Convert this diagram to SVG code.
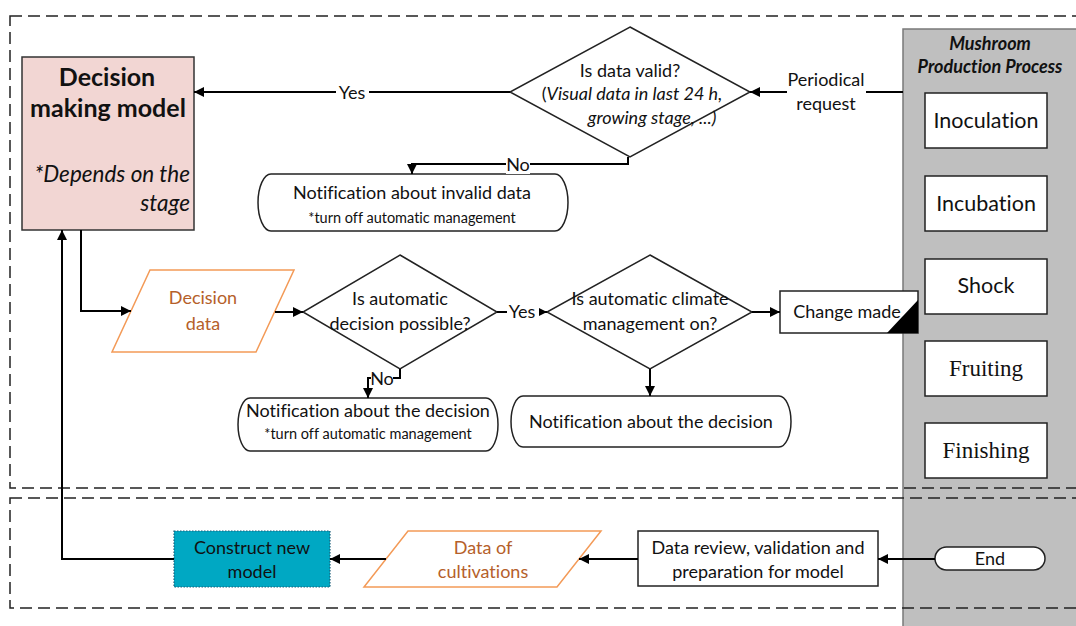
<svg xmlns="http://www.w3.org/2000/svg" width="1076" height="626" viewBox="0 0 1076 626">
<style>
text{font-family:Lato,"Open Sans","Liberation Sans",sans-serif;fill:#111;text-anchor:middle;font-variant-ligatures:none}
.t16{font-size:18px}
.t13{font-size:14.5px}
.serif{font-family:"Liberation Serif","Times New Roman",serif}
.orange{fill:#b5602a}
.box{fill:#fff;stroke:#222;stroke-width:1.5}
.dash{fill:none;stroke:#222;stroke-width:1.5;stroke-dasharray:12 6}
.conn{fill:none;stroke:#000;stroke-width:2}
.par{fill:#fff;stroke:#f39a57;stroke-width:1.5}
.lbl{fill:#fff;stroke:none}
</style>
<defs>
<marker id="ah" viewBox="0 0 10 10" refX="10" refY="5" markerWidth="10" markerHeight="10" markerUnits="userSpaceOnUse" orient="auto">
<path d="M0,0 L10,5 L0,10 Z" fill="#000"/>
</marker>
</defs>
<rect width="1076" height="626" fill="#fff"/>

<g id="panel">
<rect x="903" y="29" width="190" height="620" fill="#bfbfbf" stroke="#7a7a7a" stroke-width="1.5"/>
<text x="990" y="50" style="font-size:18px;font-weight:bold;font-style:italic">Mushroom</text>
<text x="990" y="73" style="font-size:18px;font-weight:bold;font-style:italic">Production Process</text>
</g>

<g id="frames">
<rect class="dash" x="10" y="16" width="1090" height="472"/>
<rect class="dash" x="10" y="498" width="1090" height="110"/>
</g>

<g id="stage-inoculation"><rect class="box" x="925" y="93" width="122" height="55"/><text x="986" y="128" style="font-size:21.5px">Inoculation</text></g>
<g id="stage-incubation"><rect class="box" x="925" y="176" width="122" height="55"/><text x="986" y="211" style="font-size:21.5px">Incubation</text></g>
<g id="stage-shock"><rect class="box" x="925" y="259" width="122" height="55"/><text x="986" y="293" style="font-size:21.5px">Shock</text></g>
<g id="stage-fruiting"><rect class="box" x="925" y="341" width="122" height="55"/><text class="serif" x="986" y="376" style="font-size:23px">Fruiting</text></g>
<g id="stage-finishing"><rect class="box" x="925" y="423" width="122" height="55"/><text class="serif" x="986" y="458" style="font-size:23px">Finishing</text></g>

<g id="decision-model">
<rect x="22" y="57" width="172" height="173" fill="#f2d6d3" stroke="#333" stroke-width="1.5"/>
<text x="107" y="86" style="font-size:25px;font-weight:bold">Decision</text>
<text x="108" y="117" style="font-size:25px;font-weight:bold">making model</text>
<text x="190" y="182" style="font-size:22.5px;font-style:italic;text-anchor:end">*Depends on the</text>
<text x="190" y="211" style="font-size:22.5px;font-style:italic;text-anchor:end">stage</text>
</g>

<g id="data-valid">
<polygon class="box" points="630,27 750,92 630,157 510,92"/>
<text class="t16" x="630" y="77">Is data valid?</text>
<text class="t16" x="632" y="100">(<tspan font-style="italic">Visual data in last 24 h,</tspan></text>
<text class="t16" x="652" y="124" font-style="italic">growing stage, ...)</text>
</g>

<g id="notif-invalid">
<path class="box" d="M271,174 H555 A13,28.5 0 0 1 555,231 H271 A13,28.5 0 0 1 271,174 Z"/>
<text class="t16" x="412" y="199">Notification about invalid data</text>
<text class="t13" x="412" y="223">*turn off automatic management</text>
</g>

<g id="decision-data">
<polygon class="par" points="150,270 294,270 256,352 112,352"/>
<text class="t16 orange" x="203" y="304">Decision</text>
<text class="t16 orange" x="203" y="330">data</text>
</g>

<g id="auto-decision">
<polygon class="box" points="400,255 497,312 400,369 303,312"/>
<text class="t16" x="400" y="305">Is automatic</text>
<text class="t16" x="400" y="330">decision possible?</text>
</g>

<g id="auto-climate">
<polygon class="box" points="650,255 752,312 650,369 547,312"/>
<text class="t16" x="650" y="305">Is automatic climate</text>
<text class="t16" x="650" y="330">management on?</text>
</g>

<g id="change-made">
<rect class="box" x="780" y="291" width="138" height="42"/>
<polygon points="918,300 918,333 887,333" fill="#000"/>
<text class="t16" x="847" y="318">Change made</text>
</g>

<g id="notif-decision-1">
<path class="box" d="M250,398 H486 A12,26.5 0 0 1 486,451 H250 A12,26.5 0 0 1 250,398 Z"/>
<text class="t16" x="368" y="417">Notification about the decision</text>
<text class="t13" x="368" y="439">*turn off automatic management</text>
</g>

<g id="notif-decision-2">
<path class="box" d="M523,396 H779 A12,25.5 0 0 1 779,447 H523 A12,25.5 0 0 1 523,396 Z"/>
<text class="t16" x="651" y="428">Notification about the decision</text>
</g>

<g id="end">
<rect class="box" x="935" y="547" width="110" height="23" rx="11.5" ry="11.5"/>
<text class="t16" x="990" y="565">End</text>
</g>

<g id="data-review">
<rect class="box" x="638" y="531" width="240" height="55"/>
<text class="t16" x="758" y="554">Data review, validation and</text>
<text class="t16" x="758" y="578">preparation for model</text>
</g>

<g id="data-cultivations">
<polygon class="par" points="408,531 601,531 557,587 364,587"/>
<text class="t16 orange" x="483" y="554">Data of</text>
<text class="t16 orange" x="483" y="578">cultivations</text>
</g>

<g id="construct-model">
<rect x="174" y="531" width="156" height="56" fill="#00a8c3" stroke="#1b5e78" stroke-width="1.2" stroke-dasharray="1.5 1.5"/>
<text class="t16" x="252" y="554">Construct new</text>
<text class="t16" x="252" y="578">model</text>
</g>

<g id="connectors">
<path class="conn" d="M903,92 H866"/>
<path class="conn" d="M787,92 H750" marker-end="url(#ah)"/>
<text class="t16" x="826" y="86">Periodical</text>
<text class="t16" x="826" y="110">request</text>

<path class="conn" d="M510,92 H194" marker-end="url(#ah)"/>
<rect class="lbl" x="336" y="82" width="33" height="20"/>
<text class="t16" x="352" y="99">Yes</text>

<path class="conn" d="M628,157 V164 H412 V174" marker-end="url(#ah)"/>
<rect class="lbl" x="506" y="154" width="24" height="20"/>
<text class="t16" x="518" y="171">No</text>

<path class="conn" d="M81,230 V311 H131" marker-end="url(#ah)"/>
<path class="conn" d="M275,312 H303" marker-end="url(#ah)"/>

<path class="conn" d="M497,312 H547" marker-end="url(#ah)"/>
<rect class="lbl" x="507" y="302" width="32" height="20"/>
<text class="t16" x="522" y="318">Yes</text>

<path class="conn" d="M400,369 V378 H368 V398" marker-end="url(#ah)"/>
<rect class="lbl" x="371" y="369" width="22" height="18"/>
<text class="t16" x="382" y="385">No</text>

<path class="conn" d="M752,312 H780" marker-end="url(#ah)"/>
<path class="conn" d="M650,369 V396" marker-end="url(#ah)"/>

<path class="conn" d="M935,559 H878" marker-end="url(#ah)"/>
<path class="conn" d="M638,559 H579" marker-end="url(#ah)"/>
<path class="conn" d="M386,559 H330" marker-end="url(#ah)"/>
<path class="conn" d="M174,559 H62 V230" marker-end="url(#ah)"/>
</g>
</svg>
